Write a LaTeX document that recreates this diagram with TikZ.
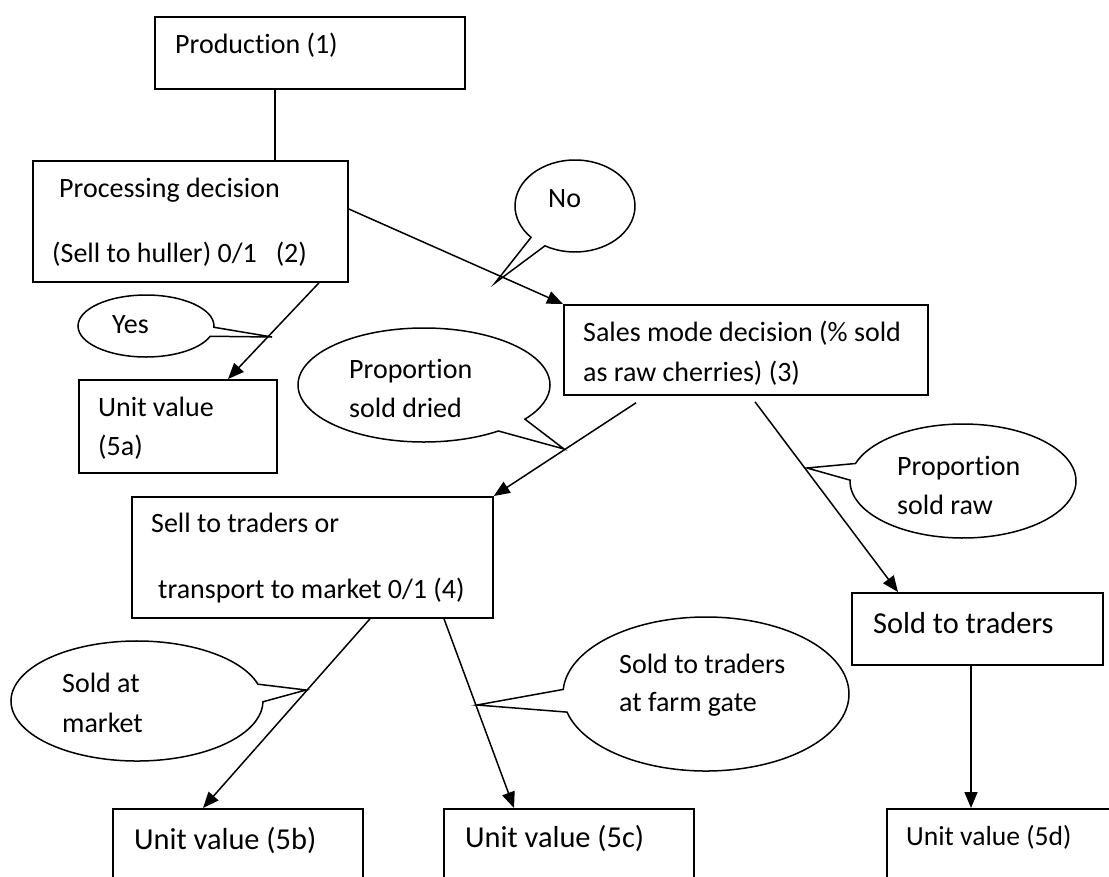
\documentclass[tikz,border=0pt]{standalone}
\usepackage{fontspec}
\setmainfont{Carlito}[Ligatures={NoCommon}]
\usetikzlibrary{shapes.callouts,arrows.meta,calc}
\begin{document}
\begin{tikzpicture}[x=1pt,y=-1pt,
  box/.style={draw,line width=1.8pt,rectangle,anchor=north west,inner sep=0pt},
  lbl/.style={anchor=base west,inner sep=0pt,font=\fontsize{28}{34}\selectfont},
  biglbl/.style={lbl,font=\fontsize{30.4}{36}\selectfont},
  conn/.style={line width=1.5pt},
  arr/.style={conn,-{Triangle[length=16pt,width=13pt]}},
  bubble/.style={ellipse callout,draw,line width=1.5pt,inner sep=0pt,callout pointer arc=17}
]
\useasboundingbox (0,0) rectangle (1109,876);
\clip (0,0) rectangle (1109,876);

% boxes
\node[box,minimum width=310pt,minimum height=72pt] (prod) at (154,16) {};
\node[box,minimum width=315pt,minimum height=121pt] (proc) at (32,160) {};
\node[box,minimum width=198pt,minimum height=93pt] (u5a) at (78,379) {};
\node[box,minimum width=364pt,minimum height=90pt] (sales) at (563,304) {};
\node[box,minimum width=361pt,minimum height=121pt] (sell) at (131,496) {};
\node[box,minimum width=251pt,minimum height=72pt] (sold) at (851,592) {};
\node[box,minimum width=250pt,minimum height=100pt] (u5b) at (112,808) {};
\node[box,minimum width=250pt,minimum height=100pt] (u5c) at (443,808) {};
\node[box,minimum width=260pt,minimum height=100pt] (u5d) at (886,808) {};

% box texts
\node[lbl] (tprod) at (175,53) {Production (1)};
\node[lbl] (tproc1) at (59,197) {Processing decision};
\node[lbl] (tproc2) at (52,262) {(Sell to huller) 0/1\ \ \ (2)};
\node[lbl] (t5a1) at (98,416) {Unit value};
\node[lbl] (t5a2) at (98,455) {(5a)};
\node[lbl] (tsales1) at (583,341) {Sales mode decision (\% sold};
\node[lbl] (tsales2) at (583,381) {as raw cherries) (3)};
\node[lbl] (tsell1) at (151,532) {Sell to traders or};
\node[lbl] (tsell2) at (158,598) {transport to market 0/1 (4)};
\node[biglbl] (tsold) at (873,633) {Sold to traders};
\node[biglbl] (t5b) at (134,849) {Unit value (5b)};
\node[biglbl] (t5c) at (465,847) {Unit value (5c)};
\node[lbl,font=\fontsize{27.6}{33}\selectfont] (t5d) at (906,845) {Unit value (5d)};

% callouts
\node[bubble,minimum width=120pt,minimum height=92pt,callout absolute pointer={(495,283)}] (cno) at (575,206) {};
\node[bubble,minimum width=136pt,minimum height=62pt,callout absolute pointer={(272,337)}] (cyes) at (146,326) {};
\node[bubble,minimum width=252pt,minimum height=114pt,callout absolute pointer={(564,449)}] (cdr) at (424,385) {};
\node[bubble,minimum width=226pt,minimum height=114pt,callout absolute pointer={(807,468)}] (crw) at (963,481) {};
\node[bubble,minimum width=252pt,minimum height=120pt,callout absolute pointer={(306,690)}] (cmk) at (137,701) {};
\node[bubble,minimum width=286pt,minimum height=154pt,callout absolute pointer={(477,705)}] (cfg) at (706,694) {};

% callout texts
\node[lbl] (tno) at (548,207) {No};
\node[lbl] (tyes) at (112,333) {Yes};
\node[lbl] (tdr1) at (349,378) {Proportion};
\node[lbl] (tdr2) at (349,417) {sold dried};
\node[lbl] (trw1) at (897,475) {Proportion};
\node[lbl] (trw2) at (897,514) {sold raw};
\node[lbl] (tmk1) at (62,692) {Sold at};
\node[lbl] (tmk2) at (62,732) {market};
\node[lbl] (tfg1) at (619,673) {Sold to traders};
\node[lbl] (tfg2) at (619,711) {at farm gate};

% connectors
\coordinate (p1) at ([xshift=121pt]prod.south west);
\draw[conn] (p1) -- (p1 |- proc.north);
\draw[arr] ([yshift=-49pt]proc.north east) -- (sales.north west);
\draw[arr] ([xshift=287pt]proc.south west) -- ([xshift=150pt]u5a.north west);
\draw[arr] ([xshift=73pt,yshift=-7pt]sales.south west) -- (sell.north east);
\draw[arr] ([xshift=192pt,yshift=-6pt]sales.south west) -- ([xshift=47pt]sold.north west);
\draw[arr] ([xshift=239pt]sell.south west) -- ([xshift=91pt]u5b.north west);
\draw[arr] ([xshift=313pt]sell.south west) -- ([xshift=71pt]u5c.north west);
\coordinate (s1) at ([xshift=120pt]sold.south west);
\draw[arr] (s1) -- (s1 |- u5d.north);
\end{tikzpicture}
\end{document}
